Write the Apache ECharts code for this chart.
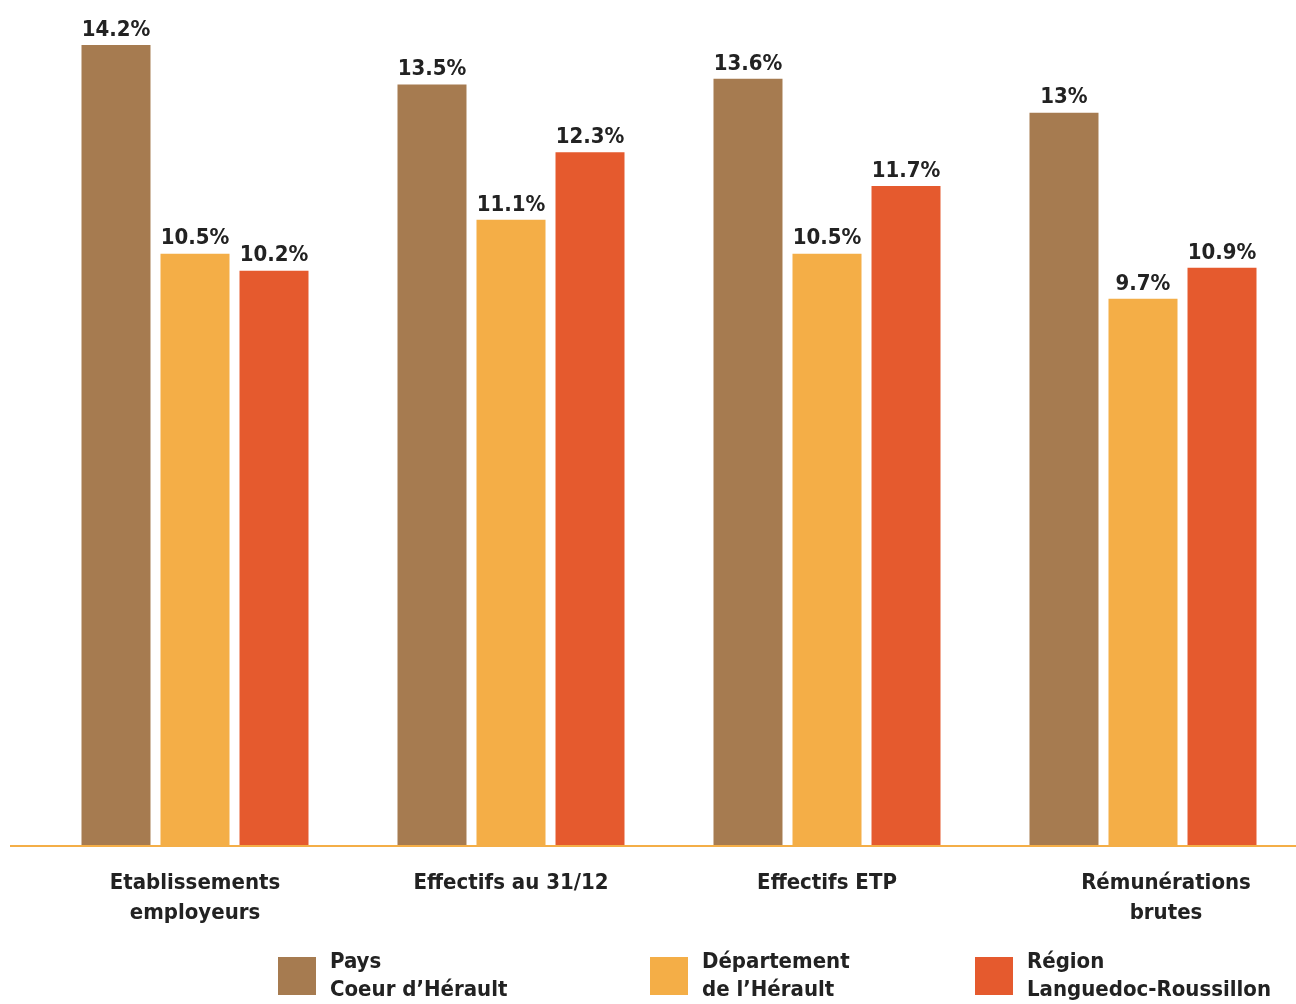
<!DOCTYPE html>
<html>
<head>
<meta charset="utf-8">
<script src="https://cdn.jsdelivr.net/npm/echarts@6/dist/echarts.min.js"></script>
<style>html,body{margin:0;padding:0;background:#fff;overflow:hidden}#c{width:1301px;height:1004px}</style>
</head>
<body>
<div id="c"></div>
<script>
const categories = ['Etablissements\nemployeurs', 'Effectifs au 31/12', 'Effectifs ETP', 'Rémunérations\nbrutes'];
const seriesNames = ['Pays\nCoeur d\u2019Hérault', 'Département\nde l\u2019Hérault', 'Région\nLanguedoc-Roussillon'];
// bar heights as drawn in the picture
const paysValues = [14.2, 13.5, 13.6, 13];
const departementValues = [10.5, 11.1, 10.5, 9.7];
const regionValues = [10.2, 12.3, 11.7, 10.25];
// value labels as printed in the picture
const paysLabels = ['14.2%', '13.5%', '13.6%', '13%'];
const departementLabels = ['10.5%', '11.1%', '10.5%', '9.7%'];
const regionLabels = ['10.2%', '12.3%', '11.7%', '10.9%'];
const colors = ['#A67B50', '#F4AE47', '#E55A2E'];
const FONT = '"Liberation Sans Narrow", "DejaVu Sans Condensed", "Liberation Sans", sans-serif';

const chart = echarts.init(document.getElementById('c'));
const allValues = [paysValues, departementValues, regionValues];
const allLabels = [paysLabels, departementLabels, regionLabels];
const legendLefts = [278, 650, 975];

chart.setOption({
  animation: false,
  grid: { left: 37, right: 0, top: 45, bottom: 158, containLabel: false },
  xAxis: {
    type: 'category',
    data: categories.map((c, i) => i === 3 ? { value: c, textStyle: { padding: [0, 0, 0, 46] } } : c),
    axisLine: { show: false },
    axisTick: { show: false },
    axisLabel: {
      margin: 22, fontFamily: FONT, fontWeight: 'bold', fontSize: 22, color: '#222', lineHeight: 30, interval: 0
    }
  },
  yAxis: { type: 'value', min: 0, max: 14.2, show: false, splitLine: { show: false } },
  legend: legendLefts.map((l, i) => ({
    data: [seriesNames[i]], left: l, top: 948, padding: 0, itemWidth: 38, itemHeight: 38, itemGap: 10,
    icon: 'rect',
    textStyle: { fontFamily: FONT, fontWeight: 'bold', fontSize: 22, color: '#222', lineHeight: 28, padding: [0, 0, 0, 9] }
  })),
  graphic: [{
    type: 'rect', shape: { x: 10, y: 845, width: 1286, height: 2 }, style: { fill: '#F4AE47' }, z: 10
  }],
  series: allValues.map((vals, i) => ({
    name: seriesNames[i], type: 'bar', data: vals, barWidth: 69, barGap: '14.5%',
    itemStyle: { color: colors[i] },
    label: {
      show: true, position: 'top', distance: 4, formatter: p => allLabels[i][p.dataIndex],
      fontFamily: FONT, fontWeight: 'bold', fontSize: 22, color: '#222'
    }
  }))
});
</script>
</body>
</html>
